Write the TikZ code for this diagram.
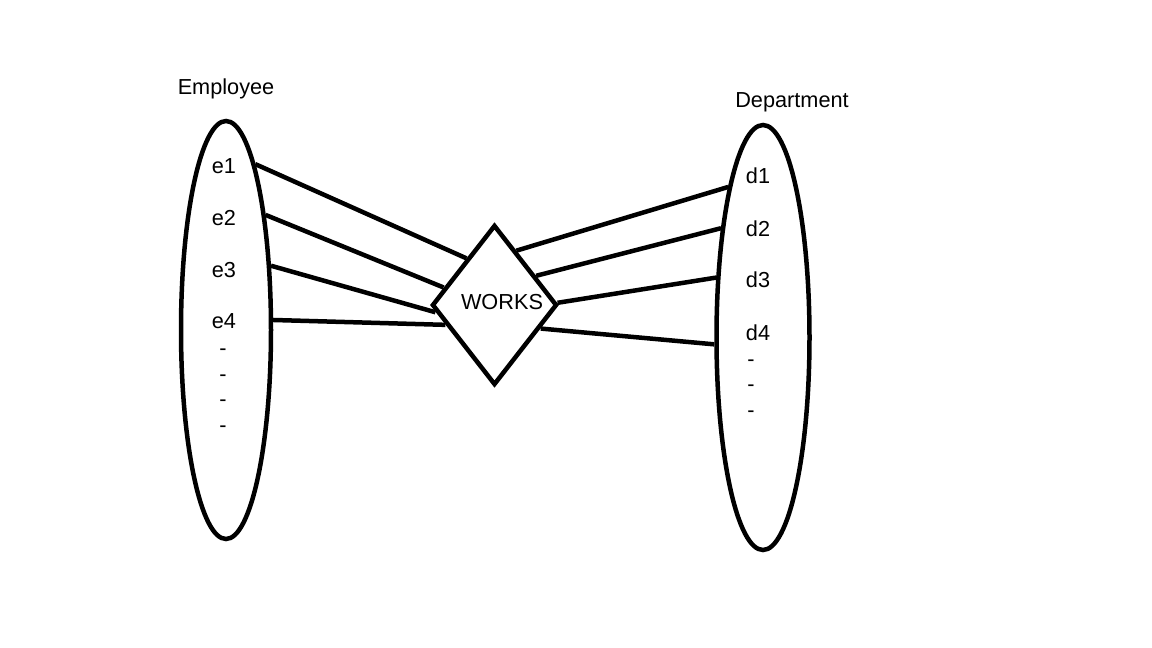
\documentclass[tikz,border=0pt]{standalone}
\usepackage{fontspec}
\setmainfont{Liberation Sans}
\usetikzlibrary{calc}
\usetikzlibrary{positioning,shapes.geometric}
\tikzset{every picture/.style={/utils/exec={\fontsize{21.7}{26}\selectfont}}}
\tikzset{
  entityset/.style={ellipse, draw, line width=4.5pt, inner sep=0pt},
  relation/.style={diamond, draw, line width=4.5pt, inner sep=0pt, minimum width=125pt, minimum height=160pt},
  link/.style={line width=4.5pt},
  member/.style={anchor=base, inner sep=0pt}
}
\begin{document}
\begin{tikzpicture}[x=1pt, y=-1pt]
  \useasboundingbox (0,0) rectangle (1152,648);

  \node [entityset, minimum width=90pt, minimum height=418pt] at (226,330) (employee) {};
  \node [entityset, minimum width=93pt, minimum height=425pt] at (763,337.5) (department) {};
  \node [relation] at (494.5,305) (works) {};
  \node [member] at (502,309) (workslabel) {WORKS};

  \node [member] at (226,94.5) (employeelabel) {Employee};
  \node [member] at (792,107.5) (departmentlabel) {Department};

  \foreach \i/\y in {1/173,2/225,3/277,4/328} {
    \node [member] at (224,\y) (e\i) {e\i};
  }
  \foreach \k/\y in {1/355,2/381,3/406,4/432} {
    \node [member] at (223,\y) (edash\k) {-};
  }
  \foreach \i/\y in {1/183,2/236,3/287,4/340} {
    \node [member] at (758,\y) (d\i) {d\i};
  }
  \foreach \k/\y in {1/366,2/391,3/417} {
    \node [member] at (751,\y) (ddash\k) {-};
  }

  % employee -- works
  \foreach \a/\b in {80/121, 71/161, 55/187, 12/202} {
    \draw [link] (employee.\a) -- (works.\b);
  }
  % department -- works
  \foreach \a/\b in {103.5/68, 111.4/35, 128.2/2, 188/333} {
    \draw [link] (department.\a) -- (works.\b);
  }

\end{tikzpicture}
\end{document}
